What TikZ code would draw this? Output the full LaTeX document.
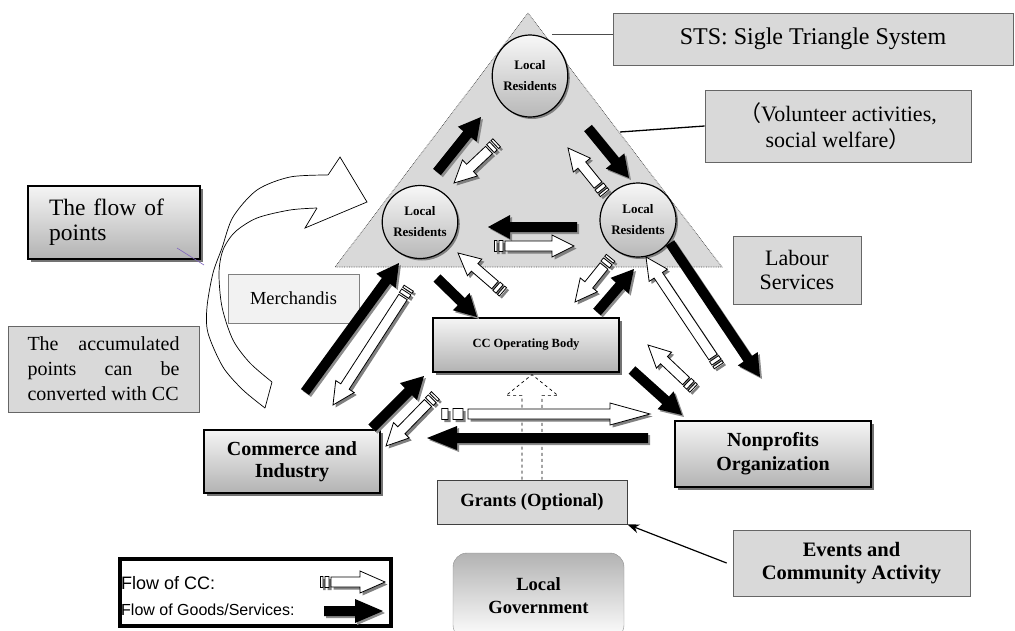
\documentclass[tikz,border=0pt]{standalone}
\usepackage{fontspec}
\setmainfont{Liberation Serif}
\setsansfont{Liberation Sans}
\newfontfamily\cjk{Noto Sans CJK SC}
\usetikzlibrary{shapes.geometric,shadows,arrows.meta}

\definecolor{pointline}{RGB}{128,100,190}

\tikzset{
  gradbox/.style={draw, line width=1.3pt, top color=black!4, bottom color=black!30,
    drop shadow={shadow xshift=3pt, shadow yshift=-3pt, fill=black!55, opacity=1},
    align=center, font=\bfseries},
  greybox/.style={draw=black!60, fill=black!15, line width=.8pt, align=center},
  resident/.style={ellipse, draw, line width=1.2pt, top color=black!3, bottom color=black!28,
    drop shadow={shadow xshift=2pt, shadow yshift=-2pt, fill=black!50, opacity=1},
    align=center, inner sep=0pt, font=\fontsize{13}{21}\selectfont\bfseries},
}

% block arrows, tail (x1,y1) to tip (x2,y2); optional arg = head length
\newcommand{\goodsarrow}[5][22]{%
  \pgfmathsetmacro{\arrang}{atan2((#3)-(#5),(#4)-(#2))}%
  \pgfmathsetmacro{\arrlen}{veclen((#4)-(#2),(#5)-(#3))}%
  \pgfmathsetmacro{\arrneck}{\arrlen-#1}%
  \fill[black!45, shift={(#2+2,#3+2)}, rotate=\arrang]
    (0,-5) -- (\arrneck,-5) -- (\arrneck,-12) -- (\arrlen,0) -- (\arrneck,12) -- (\arrneck,5) -- (0,5) -- cycle;
  \fill[shift={(#2,#3)}, rotate=\arrang]
    (0,-5) -- (\arrneck,-5) -- (\arrneck,-12) -- (\arrlen,0) -- (\arrneck,12) -- (\arrneck,5) -- (0,5) -- cycle;
}
\newcommand{\ccbar}{1}
\newcommand{\ccarrow}[5][22]{%
  \pgfmathsetmacro{\arrang}{atan2((#3)-(#5),(#4)-(#2))}%
  \pgfmathsetmacro{\arrlen}{veclen((#4)-(#2),(#5)-(#3))}%
  \pgfmathsetmacro{\arrneck}{\arrlen-#1}%
  \fill[black!50, shift={(#2+2.5,#3+2.5)}, rotate=\arrang]
    (0,-5) -- (\arrneck,-5) -- (\arrneck,-11) -- (\arrlen,0) -- (\arrneck,11) -- (\arrneck,5) -- (0,5) -- cycle
    (-2*\ccbar,-5.5) rectangle (-6*\ccbar,5.5) (-8*\ccbar,-5.5) rectangle (-10.5*\ccbar,5.5);
  \filldraw[fill=white, line width=.8pt, shift={(#2,#3)}, rotate=\arrang]
    (0,-5) -- (\arrneck,-5) -- (\arrneck,-11) -- (\arrlen,0) -- (\arrneck,11) -- (\arrneck,5) -- (0,5) -- cycle
    (-2*\ccbar,-5.5) rectangle (-6*\ccbar,5.5) (-8*\ccbar,-5.5) rectangle (-10.5*\ccbar,5.5);
}

\begin{document}
\begin{tikzpicture}[x=1pt,y=-1pt]
\useasboundingbox (0,0) rectangle (1015,630);

% the triangle
\coordinate (apex) at (528,13);
\coordinate (baseleft) at (335,267);
\coordinate (baseright) at (722,267);
\fill[black!15] (apex) -- (baseleft) -- (baseright) -- cycle;
\draw[densely dotted, black!70, line width=.7pt] (apex) -- (baseleft) -- (baseright) -- cycle;

% curved arrow of the points
\draw[line width=.7pt] plot[smooth] coordinates {(328,175) (290,177) (257,190) (233,217) (222,248) (213,273) (207,307) (208,333) (223,367) (243,390) (265,408)};
\draw[line width=.7pt] plot[smooth] coordinates {(317,208) (290,210) (257,218) (235,232) (223,250) (219,273) (222,307) (233,340) (250,363) (272,382)};
\draw[line width=.7pt] (265,408) -- (272,382);
\filldraw[fill=white, line width=.7pt] (328,175) -- (340,157) -- (367,202) -- (305,228) -- (317,208);

\node[resident, minimum width=73, minimum height=82] (restop) at (530,76) {Local\\Residents};
\node[resident, minimum width=75, minimum height=73] (resleft) at (420,222) {Local\\Residents};
\node[resident, minimum width=76, minimum height=74] (resright) at (638,220) {Local\\Residents};

\node[greybox, minimum width=400, minimum height=52, font=\fontsize{24}{26}\selectfont] (sts) at (813,39) {STS: Sigle Triangle System};
\node[greybox, minimum width=266, minimum height=72, font=\fontsize{22}{26}\selectfont] (vol) at (838,126) {{\cjk （}Volunteer activities,\\ social welfare{\cjk ）}};
\node[greybox, minimum width=128, minimum height=68, font=\fontsize{22}{24}\selectfont] (labour) at (797,270) {Labour\\Services};
\node[gradbox, line width=1.5pt, minimum width=172, minimum height=73, text width=130, align=left, font=\fontsize{23.5}{25}\selectfont] (flowpts) at (114,222.5) {The flow of\\points};
\node[greybox, minimum width=191, minimum height=86, text width=152, align=justify, font=\fontsize{20}{25}\selectfont] (accum) at (103.5,369) {The accumulated\linebreak points can be\linebreak converted with CC};
\node[draw=black!50, fill=black!5, minimum width=131, minimum height=49, font=\fontsize{18.4}{20}\selectfont] (merch) at (293.5,298.5) {Merchandis};
\node[gradbox, minimum width=186, minimum height=54, font=\fontsize{12.5}{14}\selectfont\bfseries] (ccbody) at (526,345) {CC Operating Body};
\node[gradbox, minimum width=176, minimum height=63, font=\fontsize{20}{22}\selectfont\bfseries] (commerce) at (292,461.5) {Commerce and\\Industry};
\node[gradbox, minimum width=196, minimum height=66, font=\fontsize{20}{24}\selectfont\bfseries] (nonprofit) at (773,454) {Nonprofits\\Organization};
\node[greybox, draw=black!75, minimum width=190, minimum height=44, font=\fontsize{18.6}{20}\selectfont\bfseries] (grants) at (532,502) {Grants (Optional)};
\node[greybox, minimum width=237, minimum height=66, font=\fontsize{20.5}{23}\selectfont\bfseries] (events) at (851.5,563) {Events and\\Community Activity};
\node[draw=black!45, rounded corners=14pt, top color=black!30, bottom color=white, minimum width=171, minimum height=86, align=center, font=\fontsize{18.6}{23}\selectfont\bfseries] (localgov) at (538.5,596) {Local\\Government};

% optional grants
\begin{scope}[shift={(grants.north)}]
  \draw[dashed, line width=.7pt] (-10,0) -- (-10,-84) -- (-26,-84) -- (0,-105) -- (26,-84) -- (10,-84) -- (10,0);
\end{scope}

% goods and services
\foreach \xa/\ya/\xb/\yb in {437/172/481/117, 588/128/629/178, 577/227/488/227, 305/392/399/263,
    437/278/477/317, 372/428/424/376, 597/312/634/269, 670/243/760/377, 632/370/682/415}
  \goodsarrow{\xa}{\ya}{\xb}{\yb};
\goodsarrow[30]{648}{438}{427}{438}

% community currency
\foreach \xa/\ya/\xb/\yb in {489/150/454/183, 598/185/568/148, 505/246/574/246, 403/297/333/405,
    495/285/458/253, 428/403/386/446, 604/266/575/302, 713/357/646/257, 686/381/648/345}
  \ccarrow{\xa}{\ya}{\xb}{\yb};
{\renewcommand{\ccbar}{2.5}\ccarrow[40]{468}{414}{650}{414}}

% labels
\coordinate (stsfoot) at (552,34);
\draw[black!70, line width=.8pt] (stsfoot) -- (stsfoot -| sts.west);
\coordinate (volfoot) at (620,132);
\draw[line width=1.3pt] (volfoot) -- (vol.west);
\draw[pointline, line width=.6pt] (177,248) -- (204,265);
\draw[line width=1.2pt, -{Stealth[length=12pt,width=9pt]}] ([xshift=-6pt]events.west) -- (grants.south east);

% legend
\node[draw, line width=4pt, fill=white, minimum width=271, minimum height=67] (legend) at (255.5,592.5) {};
\node[anchor=west, inner sep=0pt, font=\sffamily\fontsize{18}{20}\selectfont] (legcc) at (121,583) {Flow of CC:};
\node[anchor=west, inner sep=0pt, font=\sffamily\fontsize{16}{18}\selectfont] (leggoods) at (121,610) {Flow of Goods/Services:};
\ccarrow[25]{331}{582}{385}{582}
\goodsarrow[28]{324}{611}{383}{611}
\end{tikzpicture}
\end{document}
